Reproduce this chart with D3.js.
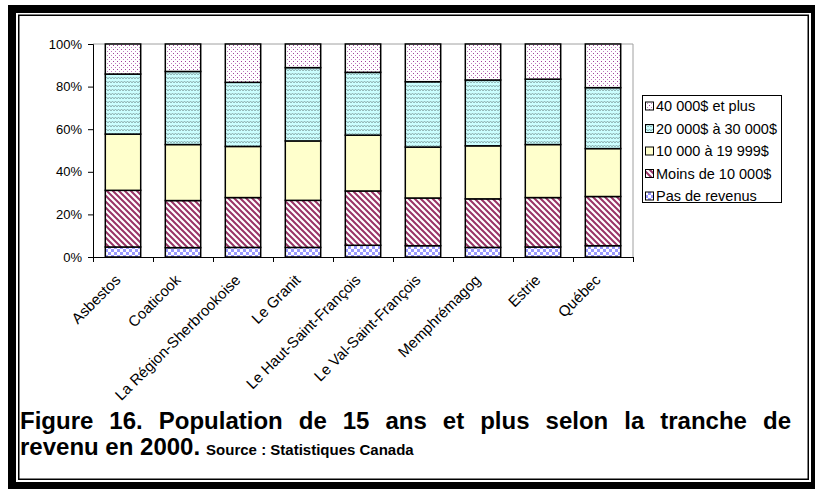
<!DOCTYPE html>
<html><head><meta charset="utf-8">
<script src="https://cdn.jsdelivr.net/npm/d3@7"></script>
<style>
html,body{margin:0;padding:0;background:#fff;}
svg{display:block;font-family:"Liberation Sans",Arial,sans-serif;}
</style></head>
<body>
<svg id="chart" width="815" height="489"></svg>
<script>
// ---- data ----
const categories = ["Asbestos","Coaticook","La Région-Sherbrookoise","Le Granit","Le Haut-Saint-François","Le Val-Saint-François","Memphrémagog","Estrie","Québec"];
const seriesNames = ["Pas de revenus","Moins de 10 000$","10 000 à 19 999$","20 000$ à 30 000$","40 000$ et plus"];
const pasDeRevenus   = [4.7, 4.4, 4.5, 4.5, 5.5, 5.3, 4.5, 4.7, 5.3];
const moins10000     = [26.6,22.1,23.4,22.1,25.5,22.4,22.8,23.2,23.1];
const de10000a19999  = [26.4,26.3,24.0,27.9,26.2,23.9,24.9,24.9,22.5];
const de20000a30000  = [28.2,34.3,30.1,34.4,29.5,30.7,30.9,30.7,28.6];
const plus40000      = [14.1,12.9,18.0,11.1,13.3,17.7,16.9,16.5,20.5];
const yTicks = [0,20,40,60,80,100];
const titleLine1 = "Figure 16. Population de 15 ans et plus selon la tranche de";
const titleLine2 = "revenu en 2000.";
const sourceText = "Source : Statistiques Canada";

const seriesValues = [pasDeRevenus, moins10000, de10000a19999, de20000a30000, plus40000];
const patternIds = ["pCheck","pStripe","pYellow","pWave","pDots"];

const rows = categories.map((c,i)=>{
  const r = {cat:c};
  seriesNames.forEach((s,j)=>{ r[s]=seriesValues[j][i]; });
  return r;
});

const svg = d3.select("#chart");
const defs = svg.append("defs");

// patterns
let p = defs.append("pattern").attr("id","pCheck").attr("patternUnits","userSpaceOnUse").attr("width",6).attr("height",6);
p.append("rect").attr("width",6).attr("height",6).attr("fill","#fff");
p.append("rect").attr("width",3).attr("height",3).attr("fill","#9999ff");
p.append("rect").attr("x",3).attr("y",3).attr("width",3).attr("height",3).attr("fill","#9999ff");

p = defs.append("pattern").attr("id","pStripe").attr("patternUnits","userSpaceOnUse").attr("width",6).attr("height",6);
p.append("rect").attr("width",6).attr("height",6).attr("fill","#fff");
p.append("path").attr("d","M-1,-1L7,7M-1,5L1,7M5,-1L7,1").attr("stroke","#993366").attr("stroke-width",2);

p = defs.append("pattern").attr("id","pYellow").attr("patternUnits","userSpaceOnUse").attr("width",4).attr("height",4);
p.append("rect").attr("width",4).attr("height",4).attr("fill","#ffffcc");

p = defs.append("pattern").attr("id","pWave").attr("patternUnits","userSpaceOnUse").attr("width",6).attr("height",4);
p.append("rect").attr("width",6).attr("height",4).attr("fill","#ccffff");
p.append("path").attr("d","M0,3L1.5,1L3,3L4.5,1L6,3").attr("stroke","#88aaaa").attr("stroke-width",0.9).attr("fill","none");

p = defs.append("pattern").attr("id","pDots").attr("patternUnits","userSpaceOnUse").attr("width",4).attr("height",4);
p.append("rect").attr("width",4).attr("height",4).attr("fill","#fff");
p.append("rect").attr("x",1).attr("y",1).attr("width",1).attr("height",1).attr("fill","#a0409a");
p.append("rect").attr("x",3).attr("y",3).attr("width",1).attr("height",1).attr("fill","#c080c0");

// frame
svg.append("rect").attr("x",8).attr("y",5).attr("width",807).attr("height",484).attr("fill","#000");
svg.append("rect").attr("x",16).attr("y",13).attr("width",795).attr("height",469).attr("fill","#fff");
svg.append("rect").attr("x",18.75).attr("y",15.25).attr("width",789.5).attr("height",464).attr("fill","none").attr("stroke","#000").attr("stroke-width",1.5);

// scales
const L=93, R=633, T=44, B=257;
const x = d3.scaleBand().domain(categories).range([L,R]).paddingInner(0.41).paddingOuter(0.205);
const y = d3.scaleLinear().domain([0,100]).range([B,T]);

// plot area border (gray)
svg.append("path").attr("d",`M${L},${T}H${R}V${B}`).attr("fill","none").attr("stroke","#a0a0a0").attr("stroke-width",1);

// bars
const stack = d3.stack().keys(seriesNames)(rows);
const g = svg.append("g");
stack.forEach((layer,j)=>{
  g.append("g").selectAll("rect").data(layer).join("rect")
    .attr("x",d=>x(d.data.cat))
    .attr("width",x.bandwidth())
    .attr("y",d=>y(d[1]))
    .attr("height",d=>y(d[0])-y(d[1]))
    .attr("fill",`url(#${patternIds[j]})`)
    .attr("stroke","#000").attr("stroke-width",1.5);
});

// y axis
const yAxis = svg.append("g").attr("transform",`translate(${L},0)`)
  .call(d3.axisLeft(y).tickValues(yTicks).tickSize(5).tickPadding(6).tickFormat(d=>d+"%"));
yAxis.select(".domain").attr("stroke","#000");
yAxis.selectAll("text").attr("font-size",13).attr("fill","#000").attr("font-family","Liberation Sans, Arial, sans-serif");

// x axis line + ticks at category boundaries
const step = x.step();
svg.append("line").attr("x1",L).attr("x2",R).attr("y1",B+0.5).attr("y2",B+0.5).attr("stroke","#000");
d3.range(categories.length+1).forEach(i=>{
  const xx = L + i*step;
  svg.append("line").attr("x1",xx+0.5).attr("x2",xx+0.5).attr("y1",B).attr("y2",B+5).attr("stroke","#000");
});
svg.append("g").selectAll("text").data(categories).join("text")
  .attr("transform",d=>`translate(${x(d)+x.bandwidth()/2-1.5},${281}) rotate(-45)`)
  .attr("text-anchor","end")
  .attr("font-size",15)
  .attr("fill","#000")
  .text(d=>d);

// legend
const lg = svg.append("g");
lg.append("rect").attr("x",642.5).attr("y",95.5).attr("width",139).attr("height",107).attr("fill","#fff").attr("stroke","#000").attr("stroke-width",1);
const legendOrder = [4,3,2,1,0];
legendOrder.forEach((j,k)=>{
  const cy = 106 + k*22.5;
  lg.append("rect").attr("x",645.5).attr("y",cy-4).attr("width",8).attr("height",8)
    .attr("fill",`url(#${patternIds[j]})`).attr("stroke","#000").attr("stroke-width",1);
  lg.append("text").attr("x",656).attr("y",cy+5).attr("font-size",14.5).attr("fill","#000").text(seriesNames[j]);
});

// title (justified line 1)
const words = titleLine1.split(" ");
const tg = svg.append("g").attr("font-weight","bold").attr("font-size",24).attr("fill","#000");
const tmp = words.map(w=>tg.append("text").attr("y",429).text(w));
const widths = tmp.map(t=>t.node().getComputedTextLength());
const x0=20, x1=791;
const gap = (x1-x0-d3.sum(widths))/(words.length-1);
let cx = x0;
tmp.forEach((t,i)=>{ t.attr("x",cx); cx += widths[i]+gap; });
const l2 = tg.append("text").attr("x",20).attr("y",455).text(titleLine2);
const w2 = l2.node().getComputedTextLength();
tg.append("text").attr("x",20+w2+6).attr("y",455).attr("font-size",15).text(sourceText);
</script>
</body></html>
